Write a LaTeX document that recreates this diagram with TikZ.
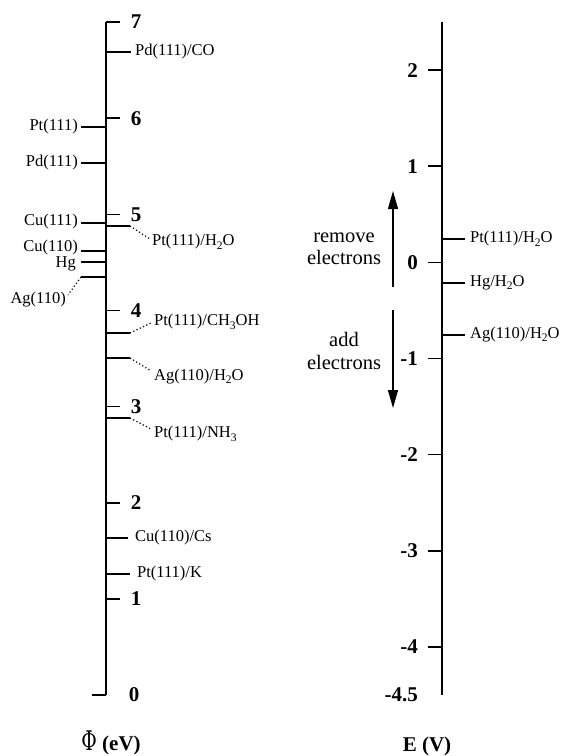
\documentclass[tikz,border=0pt]{standalone}
\usepackage{fontspec}
\usepackage{graphicx}
\setmainfont{Liberation Serif}
\newfontfamily\phifont{DejaVu Serif}
\usetikzlibrary{arrows.meta}
\newcommand\subsc[1]{\raisebox{-0.4ex}{\fontsize{11.5}{11.5}\selectfont #1}}
\begin{document}
\begin{tikzpicture}[x=1pt,y=-1pt,
  axisline/.style={line width=1.7pt},
  tk/.style={line width=1.6pt},
  lev/.style={line width=1.2pt},
  dotline/.style={line width=1.2pt, dash pattern=on 1.2pt off 2.4pt},
  num/.style={font=\fontsize{21}{21}\selectfont\bfseries, inner sep=0pt},
  lab/.style={font=\fontsize{16.5}{16.5}\selectfont, inner sep=0pt},
  big/.style={font=\fontsize{20.5}{22.5}\selectfont, align=center, inner sep=0pt},
  arr/.style={line width=1.3pt, -{Triangle[length=18pt,width=10pt]}}]
\useasboundingbox (0,0) rectangle (562,756);

% ---------- left axis (Phi) ----------
\coordinate (LT) at (106,22);
\coordinate (LB) at (106,695);
\draw[axisline] (LT) -- (LB);
\foreach \v in {1,...,7} {
  \coordinate (Lt\v) at (106,{695-96.14*\v});
  \coordinate (Lte\v) at (120,{695-96.14*\v});
  \draw[tk] (Lt\v) -- (Lte\v);
  \node[num] (Ln\v) at (136,{695-96.14*\v}) {\v};
}
\coordinate (Lte0) at (92,695);
\draw[tk] (LB) -- (Lte0);
\node[num] (Ln0) at (134,695) {0};

% levels on the left of the Phi axis
\foreach \nm/\yy in {ptA/127,pdA/163,cuA/223,cuB/251,hgA/262,agA/277} {
  \coordinate (\nm a) at (106,\yy);
  \coordinate (\nm b) at (81,\yy);
  \draw[lev] (\nm a) -- (\nm b);
}
\node[lab, anchor=east] (lPt) at (78,127) {Pt(111)};
\node[lab, anchor=east] (lPd) at (78,163) {Pd(111)};
\node[lab, anchor=east] (lCuA) at (78,222) {Cu(111)};
\node[lab, anchor=east] (lCuB) at (78,248) {Cu(110)};
\node[lab, anchor=east] (lHg) at (76,264) {Hg};
\node[lab, anchor=east] (lAg) at (66,300) {Ag(110)};
\coordinate (agEnd) at (68,295);
\draw[dotline] (agAb) -- (agEnd);

% levels on the right of the Phi axis
\foreach \nm/\yy/\xe in {pdCO/52/131,ptW/226/130,ptM/333/130,agW/358/130,ptN/418/130,cuCs/538/128,ptK/574/130} {
  \coordinate (\nm a) at (106,\yy);
  \coordinate (\nm b) at (\xe,\yy);
  \draw[lev] (\nm a) -- (\nm b);
}
\node[lab, anchor=west] (rPdCO) at (135,52) {Pd(111)/CO};
\coordinate (ptWe) at (150,239);
\draw[dotline] (ptWb) -- (ptWe);
\node[lab, anchor=west] (rPtW) at (152,242) {Pt(111)/H\subsc{2}O};
\coordinate (ptMe) at (151,323);
\draw[dotline] (ptMb) -- (ptMe);
\node[lab, anchor=west] (rPtM) at (154,322) {Pt(111)/CH\subsc{3}OH};
\coordinate (agWe) at (151,371);
\draw[dotline] (agWb) -- (agWe);
\node[lab, anchor=west] (rAgW) at (154,377) {Ag(110)/H\subsc{2}O};
\coordinate (ptNe) at (151,429);
\draw[dotline] (ptNb) -- (ptNe);
\node[lab, anchor=west] (rPtN) at (154,434) {Pt(111)/NH\subsc{3}};
\node[lab, anchor=west] (rCuCs) at (135,538) {Cu(110)/Cs};
\node[lab, anchor=west] (rPtK) at (137,574) {Pt(111)/K};

% axis title
\node[inner sep=0pt] (phi) at (89,741) {\phifont\fontsize{27}{27}\selectfont\scalebox{0.7}[1]{Φ}};
\node[num, anchor=west] (phiU) at (102,745) {(eV)};

% ---------- right axis (E) ----------
\coordinate (RT) at (442,22);
\coordinate (RB) at (442,695);
\draw[axisline] (RT) -- (RB);
\foreach \v/\t in {2/2,1/1,0/0,-1/-1,-2/-2,-3/-3,-4/-4,-4.5/-4.5} {
  \coordinate (Rt\t) at (442,{262.4-96.14*\v});
  \coordinate (Rte\t) at (428,{262.4-96.14*\v});
  \draw[tk] (Rt\t) -- (Rte\t);
  \node[num, anchor=east] (Rn\t) at (418,{262.4-96.14*\v}) {\t};
}
\foreach \nm/\yy in {ePt/239,eHg/283,eAg/335} {
  \coordinate (\nm a) at (442,\yy);
  \coordinate (\nm b) at (465,\yy);
  \draw[lev] (\nm a) -- (\nm b);
}
\node[lab, anchor=west] (ePtL) at (470,239) {Pt(111)/H\subsc{2}O};
\node[lab, anchor=west] (eHgL) at (470,283) {Hg/H\subsc{2}O};
\node[lab, anchor=west] (eAgL) at (470,335) {Ag(110)/H\subsc{2}O};

% arrows
\coordinate (upS) at (393,287);
\coordinate (upE) at (393,191);
\draw[arr] (upS) -- (upE);
\coordinate (dnS) at (393,310);
\coordinate (dnE) at (393,408);
\draw[arr] (dnS) -- (dnE);
\node[big] (rem) at (344,249) {remove\\electrons};
\node[big] (add) at (344,351) {add\\electrons};

\node[num] (eTitle) at (427,746) {E (V)};
\end{tikzpicture}
\end{document}
